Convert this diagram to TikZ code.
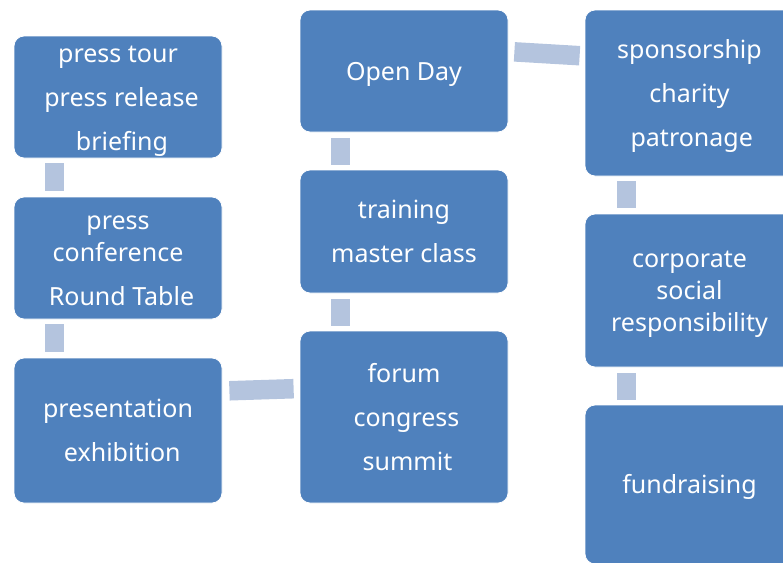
\documentclass[tikz,border=0pt]{standalone}
\usepackage{fontspec}
\setmainfont{Noto Sans}
\definecolor{boxblue}{HTML}{4F81BD}
\definecolor{barblue}{HTML}{B4C4DE}
% centred stack of lines, set a little low; \\[12pt] separates items, \\ wraps within one
\newcommand{\stacklines}[1]{\raisebox{-3pt}[\height][\depth]{\begin{tabular}{@{}c@{}}#1\end{tabular}}}
\begin{document}
\begin{tikzpicture}[x=1pt,y=-1pt,
  block/.style={rounded corners=10pt, fill=boxblue, draw=white, line width=0.8pt,
    minimum width=208pt, text=white, inner sep=0pt,
    font=\fontsize{25}{32}\selectfont},
  bar/.style={draw=barblue, line width=19.5pt}]
\useasboundingbox (0,0) rectangle (783,562);
\clip (0,0) rectangle (783,562);

% left column
\node[block, minimum height=122pt] (A) at (118,97)
  {\stacklines{press tour\\[12pt]\hspace{7pt}press release\\[12pt]\hspace{8pt}briefing}};
\node[block, minimum height=122pt] (B) at (118,258)
  {\stacklines{press\\conference\\[12pt]\hspace{7pt}Round Table}};
\node[block, minimum height=145pt] (C) at (118,430.5)
  {\stacklines{presentation\\[12pt]\hspace{8.5pt}exhibition}};

% middle column
\node[block, minimum height=122pt] (D) at (404,71) {\stacklines{Open Day}};
\node[block, minimum height=123pt] (E) at (404,231.5)
  {\stacklines{training\\[12pt]master class}};
\node[block, minimum height=172pt] (F) at (404,417)
  {\stacklines{forum\\[12pt]\hspace{5pt}congress\\[12pt]\hspace{7pt}summit}};

% right column
\node[block, minimum width=209pt, minimum height=166pt] (G) at (689.5,93)
  {\stacklines{sponsorship\\[12pt]charity\\[12pt]\hspace{4.5pt}patronage}};
\node[block, minimum width=209pt, minimum height=153pt] (H) at (689.5,290.5)
  {\stacklines{corporate\\social\\responsibility}};
\node[block, minimum width=209pt, minimum height=159pt] (I) at (689.5,484.5)
  {\stacklines{fundraising}};

% connecting bars
\draw[bar, shorten <=5pt, shorten >=6pt] ([xshift=41pt]A.south west) -- ([xshift=41pt]B.north west);
\draw[bar, shorten <=5pt, shorten >=6pt] ([xshift=41pt]B.south west) -- ([xshift=41pt]C.north west);
\draw[bar, shorten <=7pt, shorten >=6pt] ([yshift=39.5pt]C.east) -- ([yshift=28.5pt]F.west);
\draw[bar, shorten <=5pt, shorten >=6pt] ([xshift=41pt]F.north west) -- ([xshift=41pt]E.south west);
\draw[bar, shorten <=5pt, shorten >=6pt] ([xshift=41pt]E.north west) -- ([xshift=41pt]D.south west);
\draw[bar, shorten <=6pt, shorten >=5pt] ([yshift=19.5pt]D.east) -- ([yshift=37pt]G.west);
\draw[bar, shorten <=5pt, shorten >=6pt] ([xshift=42pt]G.south west) -- ([xshift=42pt]H.north west);
\draw[bar, shorten <=6pt, shorten >=5pt] ([xshift=42pt]H.south west) -- ([xshift=42pt]I.north west);
\end{tikzpicture}
\end{document}
